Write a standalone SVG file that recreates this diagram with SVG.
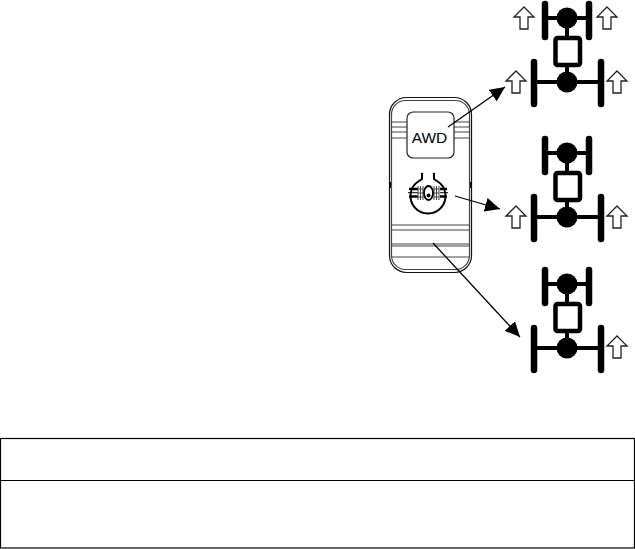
<svg xmlns="http://www.w3.org/2000/svg" width="635" height="549" viewBox="0 0 635 549">
<style>
.w{stroke:#000;stroke-width:6.500;stroke-linecap:round;fill:none}
.a{stroke:#000;stroke-width:4;fill:none}
.up{fill:#fff;stroke:#222;stroke-width:1.300}
.s{fill:none;stroke:#111;stroke-width:1.200}
.g{fill:none;stroke:#444;stroke-width:1.200}
.c{stroke:#000;stroke-width:1.300;fill:none;marker-end:url(#ah)}
.i{fill:none;stroke:#000;stroke-width:2}
</style>
<defs>
<marker id="ah" markerUnits="userSpaceOnUse" markerWidth="16" markerHeight="14" refX="15" refY="7" orient="auto"><path d="M0 0L15 7L0 14Z" fill="#000"/></marker>
<g id="chassis">
<path class="w" d="M545 4V37M589 4V37M534 62V104M601 62V104"/>
<path class="a" d="M545 18H589M534 82H601M567 18V38M567 64V82"/>
<rect x="555.500" y="38" width="24.500" height="27" rx="2" fill="#fff" stroke="#000" stroke-width="4.500"/>
<circle cx="567" cy="18" r="10.500"/><circle cx="567" cy="82" r="10.500"/>
</g>
<path id="up" class="up" d="M0 0L10 10H4V22H-4V10H-10Z"/>
</defs>
<g id="switch">
<rect class="s" x="389.500" y="97.500" width="82" height="175" rx="17"/>
<rect class="g" x="391.500" y="100.500" width="78" height="169" rx="14"/>
<path class="g" d="M391 122H407M391 127H407M391 132H407M391 138H407M454 122H469M454 127H469M454 132H469M454 138H469"/>
<path class="g" d="M391 225H469M391 230H469M391 244H469M391 246H469M391 257H469"/>
<path d="M390 182V188M471 182V188" stroke="#000" stroke-width="2"/>
<rect x="407" y="112" width="47" height="46" rx="6" fill="#fff" stroke="#222" stroke-width="1.200"/>
<text x="429.500" y="142.500" font-family="'Liberation Sans',Arial,sans-serif" font-size="15.500" text-anchor="middle" fill="#000">AWD</text>
<g id="icon">
<path class="i" d="M422 173V179L419 181A17.500 17.500 0 1 0 437 181L434 179V173"/>
<path d="M409 189H447M409 196.500H447" stroke="#000" stroke-width="2.500" fill="none"/>
<path d="M408 192.700H420M437 192.700H448" stroke="#000" stroke-width="1" fill="none"/>
<rect x="418" y="186" width="22" height="14" fill="#fff"/>
<path d="M418 186V200M420.500 186V200M423 186V200M434 186V200M436.500 186V200M439 186V200M418 189H423M418 193H423M418 197H423M434 189H439M434 193H439M434 197H439" stroke="#444" stroke-width="1" fill="none"/>
<ellipse cx="428.500" cy="193" rx="4.500" ry="7" fill="#fff" stroke="#000" stroke-width="1.800"/>
<circle cx="428.500" cy="195.500" r="2"/>
</g>
</g>
<g id="connectors">
<line class="c" x1="448" y1="127" x2="505" y2="87"/>
<line class="c" x1="455" y1="196" x2="500" y2="209"/>
<line class="c" x1="433" y1="243" x2="520" y2="337"/>
</g>
<g id="vehicle-all"><use href="#chassis"/><use href="#up" x="524" y="7"/><use href="#up" x="607" y="7"/><use href="#up" x="516" y="71"/><use href="#up" x="617" y="71"/></g>
<g id="vehicle-rear"><use href="#chassis" y="135"/><use href="#up" x="516" y="206"/><use href="#up" x="617" y="206"/></g>
<g id="vehicle-one"><use href="#chassis" y="266"/><use href="#up" x="617" y="336"/></g>
<g id="table">
<rect x="0.500" y="438.500" width="634" height="109.500" fill="none" stroke="#000" stroke-width="1.200"/>
<line x1="0" y1="480.500" x2="635" y2="480.500" stroke="#000" stroke-width="1.200"/>
</g>
</svg>
